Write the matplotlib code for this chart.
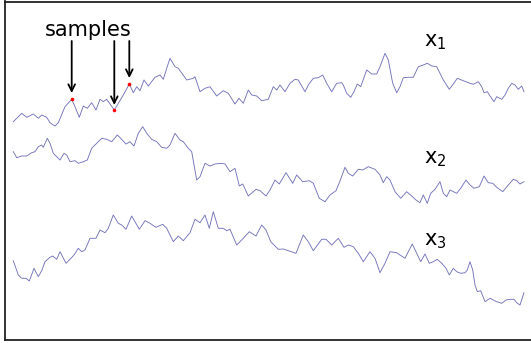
import matplotlib
matplotlib.use("Agg")
import matplotlib.pyplot as plt

# ---- data (vertical axis points downward) ----
t1 = [13.3, 21.7, 26.7, 33.3, 38.3, 41.7, 46.7, 50, 55, 58.3, 65, 71.7, 75, 79.3, 83.3, 87.3,
      91.7, 96, 100, 103.3, 106.7, 114.3, 118.3, 123.3, 129.3, 133.3, 136.7, 140, 144, 148.3,
      155, 160, 163.3, 166.7, 170, 175, 178.3, 186.7, 193.3, 195, 200, 205, 210, 216.7, 223.3,
      228.3, 235, 239, 243.3, 248.3, 251.7, 256.7, 261.7, 268.3, 273.3, 276.7, 280, 285, 290,
      295, 298.3, 305, 308.3, 313.3, 318.3, 322.7, 326.7, 331.7, 336.7, 341.7, 343.3, 346.7,
      350.7, 354, 357.3, 360.7, 366.7, 371.7, 376.7, 380, 385, 388.3, 392.7, 396.7, 400, 403.3,
      408.3, 413.3, 418.3, 423.3, 427.3, 431.7, 436.7, 443.3, 449.3, 453.3, 457.3, 463.3, 470,
      473.3, 478.3, 481.7, 484, 487.3, 490, 494, 496.7, 501.7, 505, 508.3, 511.7, 515, 518.3,
      521.7, 524]
x1 = [121.7, 113.3, 117.3, 114, 118.3, 115, 117.3, 122.7, 126, 122.7, 106.7, 99.3, 106.7, 117.3,
      106, 108.3, 102.7, 110, 99.3, 101.7, 99.3, 110, 103.3, 95, 84, 92.7, 86.7, 90.7, 80, 86,
      77.3, 75, 79.3, 68.3, 58.3, 66.7, 68.3, 80, 78.3, 76.7, 91.7, 88.3, 86.7, 96, 90.7, 93.3,
      104, 98.3, 103.3, 90, 95, 96, 100.7, 99.3, 86.7, 90, 85, 91.7, 83.3, 79.3, 80, 91.7, 85,
      78.3, 77.7, 75, 83.3, 91.7, 83.3, 82.7, 85, 93.3, 97.3, 91.7, 84, 86.7, 70, 74, 74, 66.7,
      53.3, 60, 83.3, 92.7, 86.7, 77.7, 77.3, 77.3, 66.7, 65, 63.3, 66, 66.7, 80, 89.3, 84, 78.3,
      80.7, 83.3, 84.3, 81.7, 86.7, 92.7, 91.7, 96, 101.7, 96.7, 99.3, 95, 88.3, 83.3, 85, 89.3,
      86, 91.7]

t2 = [13.3, 16.7, 21.7, 26.7, 31.7, 35, 38.3, 41.7, 43.3, 47.3, 50, 53.3, 60, 64, 66.7, 70, 75,
      78.3, 83.3, 87.3, 91.7, 96.7, 101.7, 106.7, 111.7, 117.3, 120.7, 126, 130, 134, 138.3,
      142.7, 146.7, 151.7, 156.7, 161.7, 166.7, 170, 175, 180, 183.3, 188.3, 191.7, 196.7, 200,
      205, 210, 215, 221.7, 225, 230, 235, 239.3, 242.7, 248.3, 256, 260, 266, 270, 275, 279.3,
      286, 292.7, 296.7, 302.7, 309.3, 313.3, 319.3, 325, 330, 336, 340, 345, 348.3, 352.7, 358.3,
      362.7, 368.3, 375, 380, 383.3, 386.7, 390, 395, 400.7, 406.7, 411.7, 416, 420, 423.3, 427.3,
      430.7, 435, 440, 443.3, 446.7, 450, 456.7, 460.7, 466, 470, 474, 479.3, 484, 488.3, 492.7,
      496.7, 502.7, 508.3, 513.3, 516.7, 520, 524]
x2 = [151.7, 157.7, 156, 156, 152.7, 151.7, 146.7, 145, 147.3, 138.3, 143.3, 153.3, 160, 153.3,
      155, 161.7, 160.7, 163.3, 161.7, 160, 148.3, 143.3, 138.3, 139.3, 141.7, 135, 138.3, 144,
      141.7, 146, 133.3, 126.7, 133.3, 139.3, 141.7, 147.3, 148.3, 145, 133.3, 140, 141.7, 148.3,
      151.7, 180, 176.7, 163.3, 166, 164, 163.3, 164, 171.7, 168.3, 186, 184, 196, 189.3, 190.7,
      196, 190, 180, 184, 172.7, 183.3, 175, 181.7, 180.7, 183.3, 198.3, 201.7, 195, 190.7, 181,
      167.3, 173.3, 176, 169.3, 170, 166.7, 169.3, 175, 182.7, 176.7, 180, 191.7, 198.3, 191.7,
      196, 200, 202.7, 195, 203.3, 193.3, 189.3, 181.7, 193.3, 196.7, 190, 193.3, 188.3, 180, 185,
      188.3, 186.7, 176, 182.7, 183.3, 187.3, 191.7, 185, 179.3, 180.7, 184, 181.7]

t3 = [13.3, 18.3, 21.7, 26, 29.3, 34, 38.3, 41.7, 45, 50, 52.7, 56.7, 60, 66, 70, 74, 78.3, 81.7,
      85, 90, 96, 100, 105, 108.3, 113.3, 118.3, 121.7, 126, 131.7, 135, 139.3, 145, 150, 156,
      162.7, 166.7, 170, 173.3, 178.3, 183.3, 190, 195, 200, 205, 209.3, 213.3, 218.3, 223.3,
      226.7, 230, 236.7, 243.3, 249.3, 256, 261.7, 266, 270.7, 278.3, 283.3, 288.3, 296, 303.3,
      308.3, 313.3, 321.7, 326, 331.7, 338.3, 344, 348.3, 353.3, 358.3, 363.3, 370, 375, 380, 385,
      390, 396.7, 400, 405, 408.3, 412.3, 416.7, 420.7, 425, 429.3, 433.3, 437.3, 441.7, 446,
      449.3, 453.3, 456.7, 460.7, 465, 467.3, 470, 472.7, 475, 477.3, 480.7, 485, 490, 496.7,
      501.7, 506, 510, 514, 516.7, 520, 522.7, 524]
x3 = [260.7, 275, 278.3, 278.3, 281, 268.3, 276.7, 270.7, 261.7, 257.3, 256, 259.3, 251.7, 263.3,
      259.3, 255, 248.3, 251.7, 250, 238.3, 238.3, 230, 232.7, 228.3, 215, 223.3, 225, 229.3,
      216, 221.7, 229.3, 220.7, 223.3, 227.3, 224.3, 228.3, 235, 241.7, 236, 240.7, 232.7, 219.3,
      222.7, 215, 228.3, 211.7, 228.3, 228.3, 230.7, 229.3, 245, 238.3, 231.7, 236, 225, 230,
      241.7, 249.3, 249, 250.7, 253.3, 235, 241.7, 250.7, 239.3, 239.3, 245, 238.3, 247.3, 245,
      246.7, 253.3, 261.7, 251.7, 258.3, 272.7, 263.3, 251.7, 252.7, 255, 258.3, 251.7, 244,
      253.3, 261.7, 254, 263.3, 261.7, 259.3, 263.3, 268.3, 275, 268.3, 271.7, 273.3, 272.7, 270,
      261.7, 270, 285, 291.7, 290.7, 301.7, 298.3, 301.7, 303.3, 300, 299.3, 299.3, 302.7, 305,
      296.7, 292.7]

sample_t = [71.7, 114.3, 129.3]
sample_x = [99.3, 110, 84]

labels = ["$\\mathregular{x_1}$", "$\\mathregular{x_2}$", "$\\mathregular{x_3}$"]
label_pos = [(435, 42), (435, 159), (435, 241)]

plt.rcParams['mathtext.fontset'] = 'dejavusans'

W, H = 531, 343
fig = plt.figure(figsize=(W / 100, H / 100), dpi=100)
left, right, top, bottom = 4.5, 530.5, 1.5, 340
ax = fig.add_axes([left / W, (H - bottom) / H, (right - left) / W, (bottom - top) / H])
ax.set_xlim(left, right)
ax.set_ylim(bottom, top)
ax.set_xticks([])
ax.set_yticks([])
for name, s in ax.spines.items():
    s.set_linewidth(1.3)
    s.set_color('#222222')
ax.spines['right'].set_visible(False)

line_color = '#7474bc'
for t, x in ((t1, x1), (t2, x2), (t3, x3)):
    n = min(len(t), len(x))
    ax.plot(t[:n], x[:n], color=line_color, lw=0.65)

ax.plot(sample_t, sample_x, 'o', color='red', ms=2.6, mec='none', zorder=5)

for txt, (px, py) in zip(labels, label_pos):
    ax.text(px, py, txt, fontsize=15, ha='center', va='center')

ax.text(88, 30, "samples", fontsize=15, ha='center', va='center')
tips = [(71.7, 93), (114.3, 105), (129.3, 78)]
for (tx, ty) in tips:
    ax.annotate("", xy=(tx, ty), xytext=(tx, 41),
                arrowprops=dict(arrowstyle='->', color='black', lw=1.3,
                                shrinkA=0, shrinkB=0, mutation_scale=12))

fig.savefig("out.png", dpi=100)
